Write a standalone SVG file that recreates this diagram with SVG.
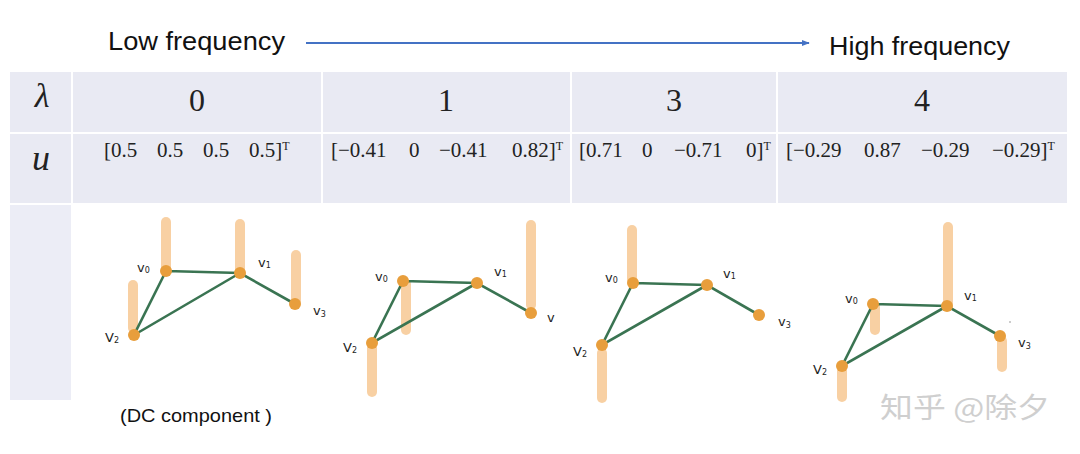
<svg xmlns="http://www.w3.org/2000/svg" width="1080" height="454" viewBox="0 0 1080 454">
<defs>
<marker id="ah" viewBox="0 0 10 10" refX="9" refY="5" markerWidth="4" markerHeight="4" orient="auto" markerUnits="strokeWidth">
<path d="M0,1 L10,5 L0,9 z" fill="#4472C4"/>
</marker>
<style>
.cell{fill:#E9EAF3}
.cell3{fill:#ECEDF6}
.hd{font-family:"Liberation Sans","Open Sans",sans-serif;font-size:25px;fill:#111}
.num{font-family:"Liberation Serif","DejaVu Serif",serif;font-size:32px;fill:#222;text-anchor:middle}
.sym{font-family:"Liberation Serif","DejaVu Serif",serif;font-style:italic;fill:#222;text-anchor:middle}
.vec{font-family:"Liberation Serif","DejaVu Serif",serif;font-size:21px;fill:#222}
.sup{font-size:12px}
.edge{stroke:#3A7452;stroke-width:2.6;fill:none;stroke-linecap:round}
.bar{stroke:#F8CC9A;stroke-width:10;stroke-linecap:round;opacity:0.9}
.node{fill:#E89E3C}
.lbl{font-family:"DejaVu Sans","Liberation Sans",sans-serif;font-size:13px;fill:#222}
.sub{font-size:8px}
.cap{font-family:"Liberation Sans","Open Sans",sans-serif;font-size:19px;fill:#111}
.wm{font-family:"Noto Sans CJK SC","Noto Sans",sans-serif;font-size:28px;fill:#CFCFCF}
</style>
</defs>
<rect width="1080" height="454" fill="#FFFFFF"/>

<g id="header">
<text class="hd" x="108" y="50" textLength="177" lengthAdjust="spacingAndGlyphs">Low frequency</text>
<line x1="306" y1="43" x2="809" y2="43" stroke="#4472C4" stroke-width="2" marker-end="url(#ah)"/>
<text class="hd" x="829" y="55" textLength="181" lengthAdjust="spacingAndGlyphs">High frequency</text>
</g>

<g id="table">
<rect class="cell" x="10" y="72" width="61" height="60"/>
<rect class="cell" x="73" y="72" width="248" height="60"/>
<rect class="cell" x="323" y="72" width="247" height="60"/>
<rect class="cell" x="572" y="72" width="204" height="60"/>
<rect class="cell" x="778" y="72" width="289" height="60"/>
<rect class="cell" x="10" y="134" width="61" height="69"/>
<rect class="cell" x="73" y="134" width="248" height="69"/>
<rect class="cell" x="323" y="134" width="247" height="69"/>
<rect class="cell" x="572" y="134" width="204" height="69"/>
<rect class="cell" x="778" y="134" width="289" height="69"/>
<rect class="cell3" x="10" y="205" width="61" height="195"/>
<text class="sym" x="42" y="107" font-size="34">λ</text>
<text class="sym" x="41" y="170" font-size="36">u</text>
<text class="num" x="197" y="111">0</text>
<text class="num" x="446" y="111">1</text>
<text class="num" x="674" y="111">3</text>
<text class="num" x="922" y="111">4</text>
<text class="vec" y="157"><tspan x="104">[0.5</tspan><tspan x="157">0.5</tspan><tspan x="203">0.5</tspan><tspan x="249">0.5]</tspan><tspan class="sup" dy="-7">T</tspan></text>
<text class="vec" y="157"><tspan x="331">[−0.41</tspan><tspan x="409">0</tspan><tspan x="439">−0.41</tspan><tspan x="512">0.82]</tspan><tspan class="sup" dy="-7">T</tspan></text>
<text class="vec" y="157"><tspan x="579">[0.71</tspan><tspan x="642">0</tspan><tspan x="674">−0.71</tspan><tspan x="746">0]</tspan><tspan class="sup" dy="-7">T</tspan></text>
<text class="vec" y="157"><tspan x="786">[−0.29</tspan><tspan x="864">0.87</tspan><tspan x="921">−0.29</tspan><tspan x="992">−0.29]</tspan><tspan class="sup" dy="-7">T</tspan></text>
</g>

<g id="bars">
<line class="bar" x1="166" y1="222" x2="166" y2="268"/>
<line class="bar" x1="240" y1="224" x2="240" y2="270"/>
<line class="bar" x1="296" y1="255" x2="296" y2="301"/>
<line class="bar" x1="133" y1="285" x2="133" y2="328"/>
<line class="bar" x1="406" y1="284" x2="406" y2="330"/>
<line class="bar" x1="531" y1="225" x2="531" y2="305"/>
<line class="bar" x1="372" y1="348" x2="372" y2="392"/>
<line class="bar" x1="632" y1="230" x2="632" y2="280"/>
<line class="bar" x1="602" y1="353" x2="602" y2="398"/>
<line class="bar" x1="948" y1="227" x2="948" y2="303"/>
<line class="bar" x1="875" y1="307" x2="875" y2="330"/>
<line class="bar" x1="1002" y1="341" x2="1002" y2="367"/>
<line class="bar" x1="842" y1="371" x2="842" y2="397"/>
</g>

<g id="connectors">
<path class="edge" d="M166,271 L240,273 L295,304 M166,271 L134,335 L240,273"/>
<path class="edge" d="M403,281 L477,283 L531,313 M403,281 L372,343 L477,283"/>
<path class="edge" d="M633,283 L707,285 L759,315 M633,283 L602,345 L707,285"/>
<path class="edge" d="M873,304 L947,306 L1000,336 M873,304 L842,366 L947,306"/>
</g>

<g id="g1-v0"><circle class="node" cx="166" cy="271" r="6"/><text class="lbl" x="137" y="272">v<tspan class="sub" dy="1">0</tspan></text></g>
<g id="g1-v1"><circle class="node" cx="240" cy="273" r="6"/><text class="lbl" x="258" y="267">v<tspan class="sub" dy="1">1</tspan></text></g>
<g id="g1-v2"><circle class="node" cx="134" cy="335" r="6"/><text class="lbl" x="105" y="342">V<tspan class="sub" dy="1">2</tspan></text></g>
<g id="g1-v3"><circle class="node" cx="295" cy="304" r="6"/><text class="lbl" x="313" y="315">v<tspan class="sub" dy="2">3</tspan></text></g>

<g id="g2-v0"><circle class="node" cx="403" cy="281" r="6"/><text class="lbl" x="375" y="281">v<tspan class="sub" dy="1">0</tspan></text></g>
<g id="g2-v1"><circle class="node" cx="477" cy="283" r="6"/><text class="lbl" x="494" y="276">v<tspan class="sub" dy="1">1</tspan></text></g>
<g id="g2-v2"><circle class="node" cx="372" cy="343" r="6"/><text class="lbl" x="343" y="352">V<tspan class="sub" dy="1">2</tspan></text></g>
<g id="g2-v3"><circle class="node" cx="531" cy="313" r="6"/><text class="lbl" x="547" y="322">v</text></g>

<g id="g3-v0"><circle class="node" cx="633" cy="283" r="6"/><text class="lbl" x="605" y="282">v<tspan class="sub" dy="1">0</tspan></text></g>
<g id="g3-v1"><circle class="node" cx="707" cy="285" r="6"/><text class="lbl" x="723" y="278">v<tspan class="sub" dy="1">1</tspan></text></g>
<g id="g3-v2"><circle class="node" cx="602" cy="345" r="6"/><text class="lbl" x="573" y="356">V<tspan class="sub" dy="1">2</tspan></text></g>
<g id="g3-v3"><circle class="node" cx="759" cy="315" r="6"/><text class="lbl" x="778" y="326">v<tspan class="sub" dy="2">3</tspan></text></g>

<g id="g4-v0"><circle class="node" cx="873" cy="304" r="6"/><text class="lbl" x="845" y="303">v<tspan class="sub" dy="1">0</tspan></text></g>
<g id="g4-v1"><circle class="node" cx="947" cy="306" r="6"/><text class="lbl" x="964" y="300">v<tspan class="sub" dy="1">1</tspan></text></g>
<g id="g4-v2"><circle class="node" cx="842" cy="366" r="6"/><text class="lbl" x="813" y="374">V<tspan class="sub" dy="1">2</tspan></text></g>
<g id="g4-v3"><circle class="node" cx="1000" cy="336" r="6"/><text class="lbl" x="1018" y="347">v<tspan class="sub" dy="2">3</tspan></text></g>
<circle cx="1010" cy="322" r="1" fill="#BBBBBB"/>

<text class="cap" x="120" y="422" textLength="152" lengthAdjust="spacingAndGlyphs">(DC component )</text>
<text class="wm" x="880" y="418" textLength="170" lengthAdjust="spacingAndGlyphs">知乎 @除夕</text>
</svg>
